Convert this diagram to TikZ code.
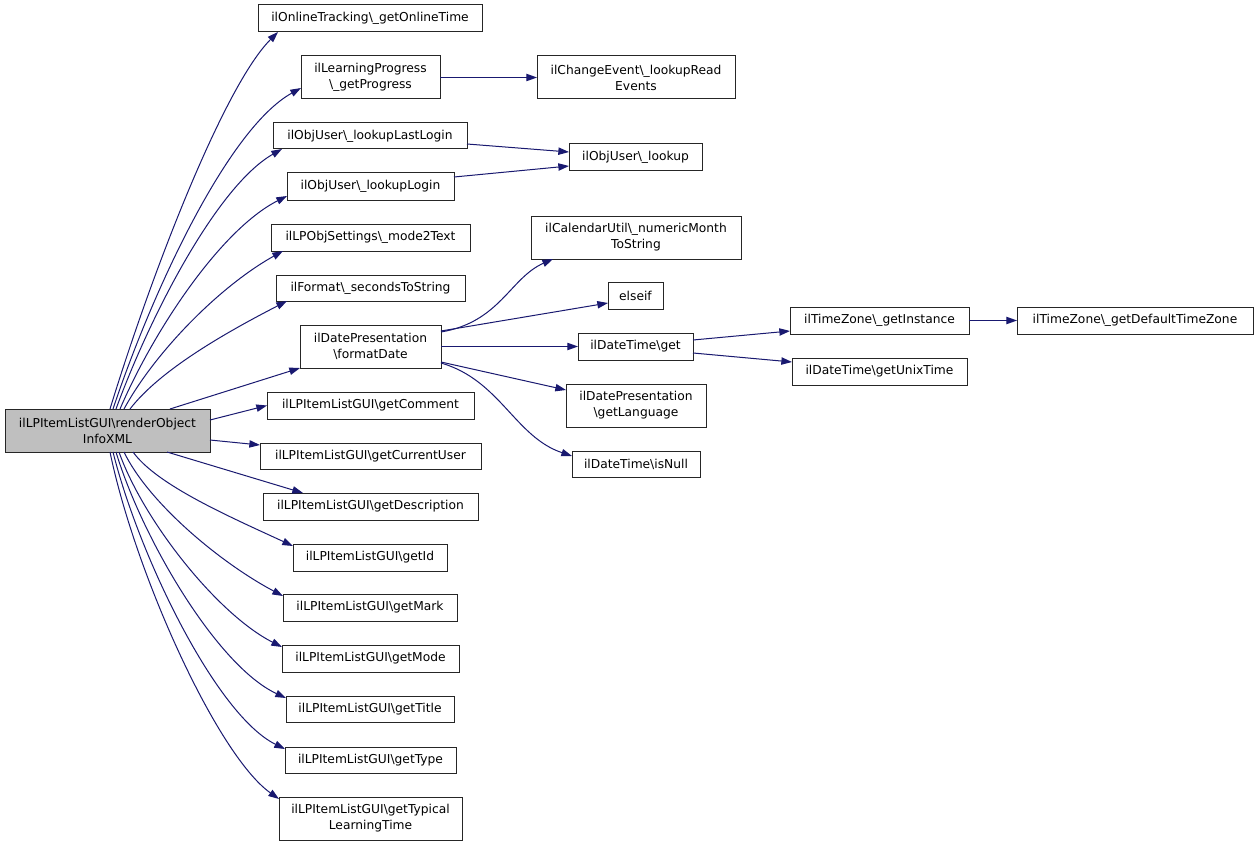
\documentclass[tikz,border=0pt]{standalone}
\usepackage{fontspec}
\setmainfont{DejaVu Sans}
\usetikzlibrary{arrows.meta,calc}
\definecolor{edgeblue}{HTML}{191970}
\definecolor{mainfill}{HTML}{BFBFBF}
\newcommand{\BSL}{\textbackslash}
\newcommand{\bx}[7][]{%
  \pgfmathsetmacro\bxw{(#5-#3)*0.75}%
  \pgfmathsetmacro\bxh{(#6-#4)*0.75}%
  \node[box,#1,minimum width=\bxw pt,minimum height=\bxh pt] (#2) at ({(#3+#5)/2},{(#4+#6)/2}) {#7};}
\begin{document}
\begin{tikzpicture}[x=0.75pt,y=-0.75pt,
  box/.style={draw=black!85, line width=0.75pt, inner sep=0pt, outer sep=0pt, align=center,
    font=\fontsize{9.2}{12}\selectfont},
  edge/.style={draw=edgeblue, line width=0.75pt, -{Triangle[length=8pt,width=5.5pt]}}]
\fill[white] (0,0) rectangle (1259,845);
\useasboundingbox (0,0) rectangle (1259,845);

\bx[fill=mainfill]{main}{5}{409}{210}{452}{ilLPItemListGUI\BSL renderObject\\InfoXML}
\bx{ot}{258}{5}{482}{32}{ilOnlineTracking\BSL\_getOnlineTime}
\bx{lp}{301}{56}{440}{99}{ilLearningProgress\\\BSL\_getProgress}
\bx{ce}{537}{56}{735}{99}{ilChangeEvent\BSL\_lookupRead\\Events}
\bx{ll}{273}{123}{467}{149}{ilObjUser\BSL\_lookupLastLogin}
\bx{lk}{569}{144}{702}{171}{ilObjUser\BSL\_lookup}
\bx{lg}{287}{173}{454}{200}{ilObjUser\BSL\_lookupLogin}
\bx{ms}{271}{224}{470}{251}{ilLPObjSettings\BSL\_mode2Text}
\bx{fs}{276}{275}{465}{301}{ilFormat\BSL\_secondsToString}
\bx{fd}{300}{325}{441}{368}{ilDatePresentation\\\BSL formatDate}
\bx{gc}{267}{392}{474}{419}{ilLPItemListGUI\BSL getComment}
\bx{gcu}{260}{443}{481}{469}{ilLPItemListGUI\BSL getCurrentUser}
\bx{gd}{263}{493}{478}{520}{ilLPItemListGUI\BSL getDescription}
\bx{gi}{293}{544}{447}{571}{ilLPItemListGUI\BSL getId}
\bx{gm}{283}{594}{457}{621}{ilLPItemListGUI\BSL getMark}
\bx{gmo}{282}{645}{459}{672}{ilLPItemListGUI\BSL getMode}
\bx{gt}{286}{696}{454}{722}{ilLPItemListGUI\BSL getTitle}
\bx{gty}{285}{747}{456}{773}{ilLPItemListGUI\BSL getType}
\bx{glt}{279}{797}{462}{840}{ilLPItemListGUI\BSL getTypical\\LearningTime}
\bx{cu}{531}{216}{741}{259}{ilCalendarUtil\BSL\_numericMonth\\ToString}
\bx{el}{608}{282}{663}{309}{elseif}
\bx{dg}{578}{333}{693}{360}{ilDateTime\BSL get}
\bx{gl}{566}{384}{706}{427}{ilDatePresentation\\\BSL getLanguage}
\bx{isn}{572}{451}{700}{477}{ilDateTime\BSL isNull}
\bx{tzi}{790}{307}{969}{334}{ilTimeZone\BSL\_getInstance}
\bx{tzd}{1017}{307}{1253}{334}{ilTimeZone\BSL\_getDefaultTimeZone}
\bx{ut}{792}{358}{967}{385}{ilDateTime\BSL getUnixTime}

% upper fan
\draw[edge] ($(main.north west)+(105,0)$) .. controls (152,272) and (224,86) .. ($(ot.south west)+(20,0)$);
\draw[edge] ($(main.north west)+(108,0)$) .. controls (151,295) and (227,129) .. ($(lp.south west)+(0,-11)$);
\draw[edge] ($(main.north west)+(111,0)$) .. controls (150,316) and (217,186) .. ($(ll.south west)+(9,0)$);
\draw[edge] ($(main.north west)+(115,0)$) .. controls (153,332) and (220,230) .. ($(lg.south west)+(0,-4)$);
\draw[edge] ($(main.north west)+(119,0)$) .. controls (155,352) and (220,286) .. ($(ms.south west)+(12,0)$);
\draw[edge] ($(main.north west)+(125,0)$) .. controls (160,370) and (225,333) .. ($(fs.south west)+(11,0)$);
\draw[edge] ($(main.north west)+(165,0)$) -- (fd.south west);
\draw[edge] ($(main.north east)+(0,11)$) -- (gc.west);
\draw[edge] ($(main.north east)+(0,31)$) -- ($(gcu.north west)+(0,2)$);
% lower fan
\draw[edge] ($(main.south west)+(162,0)$) -- ($(gd.north west)+(40,0)$);
\draw[edge] ($(main.south west)+(128,0)$) .. controls (157,485) and (228,516) .. ($(gi.north west)+(0,2)$);
\draw[edge] ($(main.south west)+(119,0)$) .. controls (148,502) and (219,562) .. ($(gm.north west)+(0,2)$);
\draw[edge] ($(main.south west)+(114,0)$) .. controls (143,520) and (217,614) .. ($(gmo.north west)+(0,2)$);
\draw[edge] ($(main.south west)+(111,0)$) .. controls (142,538) and (217,666) .. ($(gt.north west)+(0,2)$);
\draw[edge] ($(main.south west)+(108,0)$) .. controls (139,556) and (216,715) .. ($(gty.north west)+(0,2)$);
\draw[edge] ($(main.south west)+(105,0)$) .. controls (135,573) and (217,755) .. ($(glt.north west)+(0,2)$);

% second level
\draw[edge] (lp.east) -- (ce.west);
\draw[edge] ($(ll.south east)+(0,-5)$) -- ($(lk.north west)+(0,8)$);
\draw[edge] ($(lg.north east)+(0,4)$) -- ($(lk.south west)+(0,-5)$);
\draw[edge] ($(fd.north east)+(0,7)$) .. controls (500,322) and (510,278) .. ($(cu.south west)+(22,0)$);
\draw[edge] ($(fd.north east)+(0,6)$) -- ($(el.south west)+(0,-6)$);
\draw[edge] (fd.east) -- (dg.west);
\draw[edge] ($(fd.south east)+(0,-6)$) -- ($(gl.north west)+(0,6)$);
\draw[edge] ($(fd.south east)+(0,-5)$) .. controls (500,380) and (515,437) .. ($(isn.north west)+(0,5)$);
\draw[edge] ($(dg.north east)+(0,7)$) -- ($(tzi.south west)+(0,-3)$);
\draw[edge] ($(dg.south east)+(0,-7)$) -- ($(ut.north west)+(0,4)$);
\draw[edge] (tzi.east) -- (tzd.west);
\end{tikzpicture}
\end{document}
